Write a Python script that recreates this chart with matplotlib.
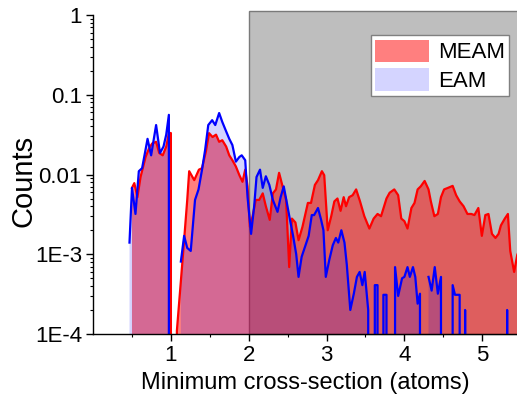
import numpy as np
import matplotlib
matplotlib.use("Agg")
import matplotlib.pyplot as plt
from matplotlib.ticker import LogLocator, NullFormatter

plt.rcParams['font.family'] = ['Liberation Sans', 'DejaVu Sans']

# MEAM histogram (red)
meam_x = [0.50, 0.53, 0.57, 0.61, 0.675, 0.72, 0.76, 0.81, 0.85, 0.895, 0.94, 0.975, 1.00,
          1.04, 1.077, 1.15, 1.21, 1.235, 1.30, 1.36, 1.40, 1.45, 1.49, 1.535, 1.58, 1.62,
          1.66, 1.71, 1.75, 1.79, 1.835, 1.88, 1.92, 1.955, 1.985, 2.015, 2.05, 2.09, 2.135,
          2.18, 2.22, 2.27, 2.31, 2.35, 2.39, 2.435, 2.48, 2.52, 2.555, 2.60, 2.64, 2.69,
          2.76, 2.80, 2.85, 2.89, 2.94, 2.97, 3.015, 3.06, 3.10, 3.14, 3.18, 3.22, 3.25,
          3.29, 3.335, 3.38, 3.43, 3.485, 3.55, 3.605, 3.655, 3.70, 3.77, 3.81, 3.87, 3.92,
          3.96, 4.00, 4.04, 4.09, 4.13, 4.17, 4.21, 4.26, 4.31, 4.34, 4.385, 4.43, 4.47,
          4.51, 4.56, 4.62, 4.665, 4.71, 4.76, 4.81, 4.86, 4.90, 4.95, 4.995, 5.04, 5.08,
          5.125, 5.17, 5.21, 5.24, 5.29, 5.33, 5.36, 5.41, 5.45, 5.50]
meam_y = [0.0068, 0.0078, 0.0052, 0.0093, 0.0166, 0.0214, 0.0245, 0.0257, 0.0186, 0.0174,
          0.0224, 0.0331, 0.0331,
          0.0, 0.00011, 0.00085, 0.0048, 0.011, 0.0085, 0.0115, 0.012, 0.0195, 0.033, 0.0295,
          0.0316, 0.0257, 0.0269, 0.0224, 0.0174, 0.0151, 0.0126, 0.0098, 0.0081, 0.0115,
          0.0071, 0.0022, 0.0030, 0.0048, 0.0048, 0.0058, 0.0040, 0.0027, 0.0058, 0.0065,
          0.0105, 0.0071, 0.0048, 0.00069, 0.0028, 0.0025, 0.0015, 0.0022, 0.0044, 0.0044,
          0.0074, 0.0085, 0.011, 0.0098, 0.0020, 0.0030, 0.0046, 0.0050, 0.0035, 0.0052,
          0.0040, 0.0052, 0.0055, 0.0065, 0.0046, 0.0030, 0.0021, 0.0028, 0.0032, 0.0030,
          0.0050, 0.0059, 0.0065, 0.0055, 0.0028, 0.0026, 0.0021, 0.0038, 0.0044, 0.0065,
          0.0071, 0.0083, 0.0065, 0.0046, 0.0030, 0.0032, 0.0052, 0.0065, 0.0068, 0.0072,
          0.0055, 0.0046, 0.0040, 0.0032, 0.0032, 0.0031, 0.0038, 0.0017, 0.0031, 0.0032,
          0.0018, 0.0016, 0.0018, 0.0023, 0.0028, 0.0032, 0.0011, 0.0006, 0.00098, 0.0013]

# EAM histogram (blue); nan = no data drawn
eam_x = [0.468, 0.50, 0.545, 0.588, 0.63, 0.674, 0.70, 0.746, 0.81, 0.86, 0.905, 0.94, 0.974,
         1.00, 1.06, 1.128, 1.17, 1.21, 1.255, 1.31, 1.355, 1.40, 1.44, 1.48, 1.53, 1.57,
         1.62, 1.66, 1.71, 1.75, 1.79, 1.835, 1.88, 1.91, 1.955, 1.985, 2.03, 2.07, 2.10,
         2.145, 2.18, 2.22, 2.265, 2.31, 2.37, 2.41, 2.45, 2.49, 2.53, 2.57, 2.61, 2.64,
         2.68, 2.73, 2.77, 2.81, 2.84, 2.89, 2.93, 2.96, 2.99, 3.035, 3.08, 3.12, 3.15,
         3.19, 3.23, 3.26, 3.305, 3.35, 3.39, 3.425, 3.46, 3.49, 3.535, 3.58, 3.62, 3.655,
         3.69, 3.73, 3.77, 3.81, 3.85, 3.88, 3.92, 3.97, 4.00, 4.04, 4.07, 4.11, 4.14,
         4.17, 4.20, 4.22, 4.27, 4.31, 4.35, 4.39, 4.43, 4.47, 4.50, 4.58, 4.62, 4.65,
         4.71, 4.75, 4.78, 4.82, 5.28, 5.32, 5.36, 5.50]
eam_y = [0.0014, 0.0068, 0.0032, 0.011, 0.012, 0.0204, 0.028, 0.0174, 0.0417, 0.0186,
         0.0224, 0.0316, 0.056,
         0.0, np.nan, 0.00081, 0.0017, 0.0012, 0.0011, 0.0048, 0.0065, 0.0115, 0.0204,
         0.0417, 0.048, 0.0417, 0.059, 0.0457, 0.0347, 0.028, 0.0234, 0.0145, 0.0166,
         0.0174, 0.0151, 0.0052, 0.0018, 0.0040, 0.0093, 0.0115, 0.0068, 0.0095, 0.0074,
         0.0048, 0.0034, 0.0052, 0.0071, 0.0044, 0.0027, 0.0017, 0.0010, 0.00052, 0.00093,
         0.0013, 0.0017, 0.0031, 0.0031, 0.0038, 0.0027, 0.0020, 0.00052, 0.00085, 0.0013,
         0.0016, 0.0014, 0.0020, 0.0014, 0.00074, 0.0002, 0.00032, 0.00052, 0.0006,
         0.00041, 0.0006, 0.0002, 0.0, 0.00041, 0.00041, 0.0, 0.00031, 0.00031, 0.0, 0.0,
         0.00069, 0.0003, 0.0005, 0.00052, 0.00069, 0.00052, 0.00069, 0.00052, 0.00024,
         0.00032, 0.0, np.nan, 0.00052, 0.00035, 0.00069, 0.00032, 0.00052, 0.0, 0.0,
         0.00041, 0.00031, 0.00031, 0.0, 0.0002, 0.0, 0.0, 0.0002, 0.0, 0.0]
eam_fill_end = 4.5

x_ticks = [1, 2, 3, 4, 5]
y_ticks = [1e-4, 1e-3, 1e-2, 1e-1, 1]
y_ticklabels = ['1E-4', '1E-3', '0.01', '0.1', '1']
shade_start = 2

meam_x = np.array(meam_x)
meam_y = np.array(meam_y)
eam_x = np.array(eam_x)
eam_y = np.array(eam_y)

fig = plt.figure(figsize=(5.17, 3.97), dpi=100)
ax = fig.add_axes([0.180, 0.1587, 0.822, 0.8035])
ax.set_yscale('log')

ax.axvspan(shade_start, 7, ymin=0, ymax=1.011, facecolor='#bebebe',
           edgecolor='#7a7a7a', lw=1, clip_on=False, zorder=0.5)

ax.fill_between(meam_x, meam_y, 1e-6, where=meam_y > 0, facecolor='red', alpha=0.5,
                lw=0, zorder=1, label='MEAM')
eam_mask = (np.nan_to_num(eam_y) > 0) & (eam_x <= eam_fill_end)
ax.fill_between(eam_x, eam_y, 1e-6, where=eam_mask, facecolor='blue', alpha=0.17,
                lw=0, zorder=1.5, label='EAM')
ax.plot(meam_x, meam_y, color='red', lw=1.6, zorder=2)
ax.plot(eam_x, eam_y, color='blue', lw=1.6, zorder=2.5)

ax.set_xlim(0, 5.46)
ax.set_ylim(1e-4, 1)
ax.set_xticks(x_ticks)
ax.set_xticks(np.arange(0.5, 5.5, 1), minor=True)
ax.set_yticks(y_ticks)
ax.set_yticklabels(y_ticklabels)
ax.yaxis.set_minor_locator(LogLocator(base=10, subs=np.arange(2, 10), numticks=20))
ax.yaxis.set_minor_formatter(NullFormatter())
ax.tick_params(which='major', length=5, width=1, labelsize=16, pad=3)
ax.tick_params(which='minor', length=2.5, width=0.8)

for s in ['top', 'right']:
    ax.spines[s].set_visible(False)
for s in ['left', 'bottom']:
    ax.spines[s].set_linewidth(1)

ax.set_xlabel('Minimum cross-section (atoms)', fontsize=17, labelpad=4)
ax.set_ylabel('Counts', fontsize=21)
ax.yaxis.set_label_coords(-0.13, 0.48)

leg = ax.legend(loc='upper right', bbox_to_anchor=(0.979, 0.937), fontsize=16,
                handlelength=2.4, handleheight=1.2, labelspacing=0.2, handletextpad=0.4,
                borderpad=0.2, borderaxespad=0, fancybox=False, framealpha=1)
leg.get_frame().set_edgecolor('#808080')
leg.get_frame().set_linewidth(1)

fig.savefig('out.png', dpi=100)
